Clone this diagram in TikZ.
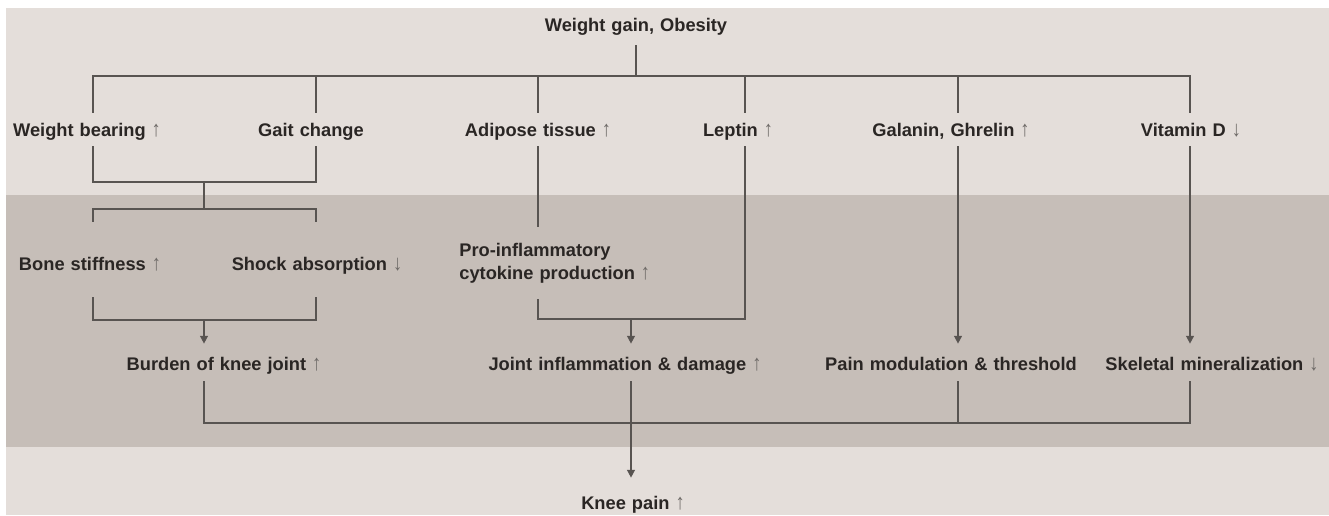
\documentclass[tikz,border=0pt]{standalone}
\usepackage{fontspec}
\setmainfont{Liberation Sans}
\usetikzlibrary{arrows.meta}
\definecolor{bglight}{RGB}{228,222,218}
\definecolor{bgdark}{RGB}{198,190,184}
\definecolor{linegray}{RGB}{88,84,81}
\definecolor{txtgray}{RGB}{42,38,36}
\definecolor{signgray}{RGB}{110,106,103}
\newcommand\lblfont{\fontsize{10.4}{13}\selectfont\bfseries\spaceskip=0.33em\relax}
\def\incr{ {\mdseries\color{signgray}\scalebox{1}[1.2]{↑}}}
\def\decr{ {\mdseries\color{signgray}\scalebox{1}[1.2]{↓}}}
\tikzset{
  lbl/.style={font=\lblfont, text=txtgray, inner sep=0pt, anchor=base},
  tier2/.style={lbl, text height=0.47cm, text depth=0.19cm},
  tier3/.style={lbl, text height=0.97cm, text depth=0.53cm},
  tier4/.style={lbl, text height=0.53cm, text depth=0.21cm},
  con/.style={draw=linegray, line width=0.85pt},
  tip/.style={con, -{Triangle[width=4.5pt,length=4.5pt]}}
}

\begin{document}
\begin{tikzpicture}[x=0.02cm, y=-0.02cm]
    \useasboundingbox (0,0) rectangle (1329,515);
    \fill[bglight] (6,8) rectangle (1329,515);
    \fill[bgdark] (6,195) rectangle (1329,447);

    \node[lbl, text depth=0.27cm] (top) at (636,31.5) {Weight gain, Obesity};
    \node[tier2] (wb) at (87,136.5) {Weight bearing\incr};
    \node[tier2] (gc) at (311,136.5) {Gait change};
    \node[tier2] (at) at (538,136.5) {Adipose tissue\incr};
    \node[tier2] (lp) at (738,136.5) {Leptin\incr};
    \node[tier2] (gg) at (951,136.5) {Galanin, Ghrelin\incr};
    \node[tier2] (vd) at (1191,136.5) {Vitamin D\decr};
    \node[tier3] (bs) at (90,270.5) {Bone stiffness\incr};
    \node[tier3] (sa) at (317,270.5) {Shock absorption\decr};
    \node[lbl, anchor=west, align=left, outer ysep=0.33cm] (pi) at (459,263) {Pro-inflammatory\\cytokine production\incr};
    \node[tier4] (bk) at (224,370.5) {Burden of knee joint\incr};
    \node[tier4] (ji) at (625,370.5) {Joint inflammation \& damage\incr};
    \node[tier4] (pm) at (951,370.5) {Pain modulation \& threshold};
    \node[tier4] (sm) at (1212,370.5) {Skeletal mineralization\decr};
    \node[lbl, text height=0.63cm] (kp) at (633,509.5) {Knee pain\incr};

    \coordinate (cA) at (93,0);
    \coordinate (cB) at (316,0);
    \coordinate (cC) at (538,0);
    \coordinate (cD) at (745,0);
    \coordinate (cE) at (958,0);
    \coordinate (cF) at (1190,0);
    \coordinate (hub) at (636,76);
    \coordinate (wbj) at (204,182);
    \coordinate (bsj) at (204,209);
    \coordinate (bkj) at (204,320);
    \coordinate (jij) at (631,319);
    \coordinate (kpj) at (631,423);

    \draw[con] (top.south) -- (hub);
    \draw[con] (wb.north -| cA) -- (cA |- hub) -- (cF |- hub) -- (vd.north -| cF);
    \foreach \n/\c in {gc/cB, at/cC, lp/cD, gg/cE}
        \draw[con] (\c |- hub) -- (\n.north -| \c);
    \draw[con] (wb.south -| cA) -- (cA |- wbj) -- (cB |- wbj) -- (gc.south -| cB);
    \draw[con] (wbj) -- (bsj);
    \draw[con] (bs.north -| cA) -- (cA |- bsj) -- (cB |- bsj) -- (sa.north -| cB);
    \draw[con] (bs.south -| cA) -- (cA |- bkj) -- (cB |- bkj) -- (sa.south -| cB);
    \draw[tip] (bkj) -- (bk.north -| bkj);
    \draw[con] (at.south -| cC) -- (pi.north -| cC);
    \draw[con] (lp.south -| cD) -- (cD |- jij) -- (cC |- jij) -- (pi.south -| cC);
    \draw[tip] (jij) -- (ji.north -| jij);
    \draw[tip] (gg.south -| cE) -- (pm.north -| cE);
    \draw[tip] (vd.south -| cF) -- (sm.north -| cF);
    \draw[con] (bk.south -| bkj) -- (bkj |- kpj) -- (cF |- kpj) -- (sm.south -| cF);
    \draw[con] (pm.south -| cE) -- (cE |- kpj);
    \draw[tip] (ji.south -| jij) -- (kp.north -| jij);
\end{tikzpicture}
\end{document}
